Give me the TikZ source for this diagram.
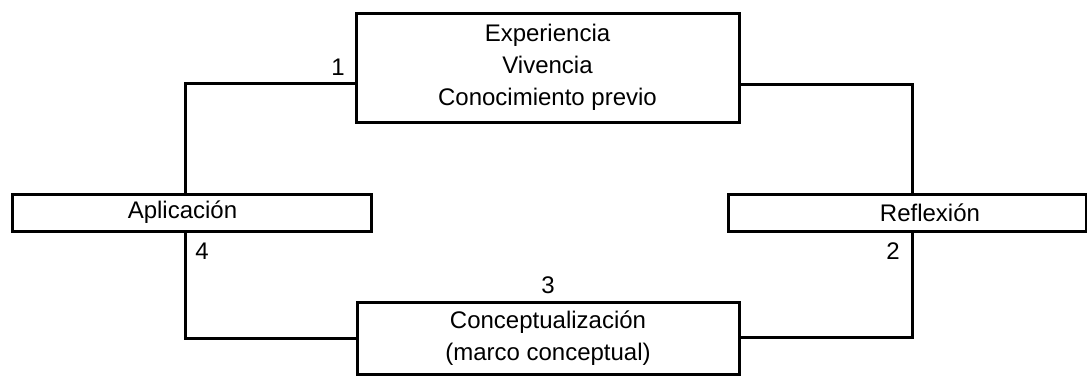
\documentclass[tikz,border=0pt]{standalone}
\usepackage{fontspec}
\setmainfont{Liberation Sans}
\begin{document}
\begin{tikzpicture}[x=1pt,y=1pt,
  box/.style={draw=black, line width=3pt, fill=white, inner sep=0pt, align=center,
    font=\fontsize{24}{32}\selectfont},
  txt/.style={inner sep=0pt, font=\fontsize{24}{32}\selectfont},
  conn/.style={draw=black, line width=3pt}]
\useasboundingbox (0,0) rectangle (1087,376);
\node[box, minimum width=383pt, minimum height=109pt] (top) at (547.5,308.5)
  {Experiencia\\Vivencia\\Conocimiento previo};
\node[box, minimum width=359pt, minimum height=37pt] (apl) at (191.5,163.5) {};
\node[txt] (apltxt) at (182.5,163.5) {Aplicación};
\node[box, minimum width=358pt, minimum height=37pt] (ref) at (907,163.5) {};
\node[txt] (reftxt) at (930,163.5) {Reflexión};
\node[box, minimum width=382pt, minimum height=72pt] (bot) at (548,38)
  {Conceptualización\\(marco conceptual)};
\draw[conn] ([yshift=-15.5pt]top.west) -| ([xshift=-6.5pt]apl.north);
\draw[conn] ([yshift=-16.5pt]top.east) -| ([xshift=5pt]ref.north);
\draw[conn] ([xshift=-6.5pt]apl.south) |- (bot.west);
\draw[conn] ([xshift=5pt]ref.south) |- ([yshift=1pt]bot.east);
\node[txt] (n1) at (338,309) {1};
\node[txt] (n2) at (893,125) {2};
\node[txt] (n3) at (548,91) {3};
\node[txt] (n4) at (202,125) {4};
\end{tikzpicture}
\end{document}
